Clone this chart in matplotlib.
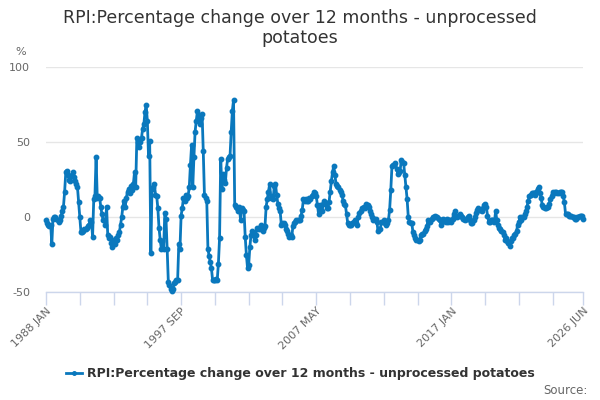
import numpy as np
import matplotlib
matplotlib.use("Agg")
from matplotlib import pyplot as plt

plt.rcParams['font.family'] = ['DejaVu Sans']

# monthly values, 1988 JAN .. 2026 JUN
y1988 = [-2, -4, -5, -6, -5, -18, -1, 0, 0, -1, -2, -3]
y1989 = [-2, 1, 4, 7, 17, 30, 31, 28, 25, 24, 28, 30]
y1990 = [27, 24, 22, 20, 10, 0, -10, -10, -9, -8, -8, -7]
y1991 = [-6, -5, -2, -3, -13, 12, 14, 40, 13, 14, 13, 7]
y1992 = [2, -2, -2, -5, 7, -12, -14, -13, -17, -20, -15, -18]
y1993 = [-14, -15, -12, -10, -5, 0, 7, 11, 7, 13, 17, 19]
y1994 = [16, 21, 18, 22, 30, 20, 53, 50, 47, 50, 53, 59]
y1995 = [62, 70, 75, 64, 41, 51, -24, 19, 20, 22, 15, 14]
y1996 = [6, -7, -15, -21, -16, -21, 3, -1, -21, -43, -45, -48]
y1997 = [-49, -48, -44, -43, -42, -42, -18, -21, 1, 6, 13, 11]
y1998 = [15, 13, 14, 20, 35, 48, 20, 40, 57, 64, 71, 68]
y1999 = [62, 66, 69, 44, 15, 13, 11, -21, -26, -30, -34, -42]
y2000 = [-42, -42, -41, -42, -31, -14, 39, 19, 29, 25, 23, 33]
y2001 = [39, 40, 41, 57, 71, 78, 8, 7, 6, 4, 7, -2]
y2002 = [6, 5, 4, -13, -25, -34, -32, -20, -12, -9, -12, -15]
y2003 = [-12, -7, -8, -7, -8, -5, -9, -7, -6, 7, 12, 17]
y2004 = [22, 13, 14, 12, 21, 22, 15, 9, 6, 4, -5, -4]
y2005 = [-4, -5, -8, -9, -11, -13, -12, -13, -6, -4, -3, -2]
y2006 = [-2, -2, -2, 1, 5, 12, 11, 12, 11, 11, 13, 12]
y2007 = [14, 15, 17, 16, 14, 8, 2, 8, 5, 4, 9, 11]
y2008 = [9, 6, 6, 10, 17, 24, 30, 34, 28, 22, 21, 20]
y2009 = [18, 17, 15, 11, 9, 8, 2, -4, -5, -5, -5, -4]
y2010 = [-3, -2, -4, -5, 0, 3, 4, 6, 6, 7, 6, 9]
y2011 = [8, 7, 4, 2, 0, -2, -1, -1, -3, -9, -8, -8]
y2012 = [-3, -3, -2, -4, -5, -4, -2, 5, 18, 34, 35, 35]
y2013 = [36, 32, 29, 30, 31, 38, 37, 36, 28, 20, 12, 0]
y2014 = [-3, -4, -4, -10, -12, -14, -15, -15, -16, -15, -12, -11]
y2015 = [-11, -9, -8, -6, -2, -3, -3, -1, 0, 0, 1, 0]
y2016 = [0, -1, -2, -5, -3, -1, -2, -3, -1, -3, -2, -2]
y2017 = [-3, -1, 2, 4, 1, 0, 1, 2, 1, 0, -1, -1]
y2018 = [-2, -1, 0, 1, -2, -4, -4, -2, 0, 3, 5, 6]
y2019 = [5, 5, 4, 6, 8, 9, 7, 1, -3, -3, -2, -2]
y2020 = [-2, -3, 4, -2, -5, -7, -8, -9, -10, -12, -15, -14]
y2021 = [-16, -17, -19, -16, -14, -14, -12, -11, -9, -5, -3, 0]
y2022 = [-2, 0, 0, 2, 4, 7, 11, 14, 15, 16, 16, 16]
y2023 = [15, 17, 19, 20, 16, 13, 8, 7, 6, 6, 7, 7]
y2024 = [9, 12, 14, 17, 16, 17, 17, 16, 16, 17, 17, 17]
y2025 = [14, 10, 2, 2, 2, 1, 1, 1, 0, 0, -1, -1]
y2026 = [0, 0, 1, 1, 1, -1]

years = [y1988, y1989, y1990, y1991, y1992, y1993, y1994, y1995, y1996,
         y1997, y1998, y1999, y2000, y2001, y2002, y2003, y2004, y2005,
         y2006, y2007, y2008, y2009, y2010, y2011, y2012, y2013, y2014,
         y2015, y2016, y2017, y2018, y2019, y2020, y2021, y2022, y2023,
         y2024, y2025, y2026]
values = [v for yr in years for v in yr]

tick_labels = ["1988 JAN", "1997 SEP", "2007 MAY", "2017 JAN", "2026 JUN"]
label_pos = [0, 116, 232, 348, 461]
minor_pos = [0, 29, 58, 87, 116, 145, 174, 203, 232, 261, 290, 319, 348,
             377, 406, 435, 461]

title = "RPI:Percentage change over 12 months - unprocessed\npotatoes"
series_name = "RPI:Percentage change over 12 months - unprocessed potatoes"

line_col = "#0a78bd"
axis_col = "#ccd6eb"
grid_col = "#e6e6e6"
text_col = "#666666"

fig = plt.figure(figsize=(6, 4), dpi=100)
ax = fig.add_axes([46/600, 1-292/400, (583-46)/600, (292-67)/400])

x = np.arange(len(values))
ax.plot(x, values, color=line_col, lw=2, marker='o', ms=3.2,
        label=series_name, clip_on=False, zorder=3)

ax.set_xlim(0, len(values) - 1)
ax.set_ylim(-50, 100)
ax.set_yticks([-50, 0, 50, 100])
ax.set_yticklabels(["-50", "0", "50", "100"])
ax.tick_params(axis='y', length=0, labelsize=8, labelcolor=text_col, pad=11.5)
ax.grid(axis='y', color=grid_col, lw=1)
ax.set_axisbelow(True)

ax.set_xticks(minor_pos)
ax.set_xticklabels([tick_labels[label_pos.index(p)] if p in label_pos else ""
                    for p in minor_pos])
ax.tick_params(axis='x', length=9, width=1, color=axis_col, labelsize=8,
               labelcolor=text_col, pad=1)
for lbl in ax.get_xticklabels():
    lbl.set_rotation(45)
    lbl.set_horizontalalignment('right')
    lbl.set_rotation_mode('anchor')

for side in ['top', 'right', 'left']:
    ax.spines[side].set_visible(False)
ax.spines['bottom'].set_color(axis_col)
ax.spines['bottom'].set_linewidth(1)
ax.spines['bottom'].set_zorder(1)

fig.text(0.5, 1-28/400, title, ha='center', va='center', fontsize=12.5,
         color="#333333", linespacing=1.2)
fig.text(15/600, 1-52/400, "%", ha='left', va='center', fontsize=8,
         color=text_col)

fig.legend(loc='center', bbox_to_anchor=(0.5, 1-374/400), frameon=False,
           prop={'size': 9, 'weight': 'bold'}, handlelength=1.3,
           handletextpad=0.4, labelcolor="#333333", markerscale=0.8)
fig.text(588/600, 1-391/400, "Source:", ha='right', va='center',
         fontsize=8.5, color=text_col)

fig.savefig("out.png", dpi=100)
